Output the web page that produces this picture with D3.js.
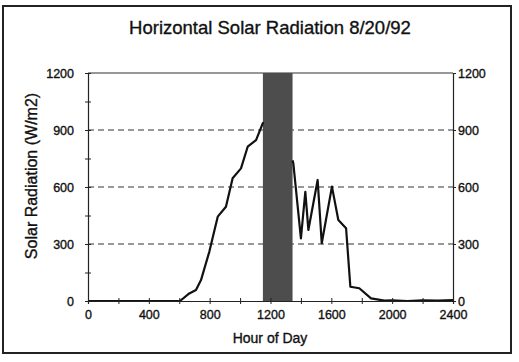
<!DOCTYPE html>
<html>
<head>
<meta charset="utf-8">
<title>Horizontal Solar Radiation</title>
<script src="https://d3js.org/d3.v7.min.js"></script>
<style>
  body { margin: 0; background: #fff; }
  text { font-family: Arial, "Liberation Sans", sans-serif; fill: #111; stroke: #111; stroke-width: 0.35px; }
</style>
</head>
<body>
<script>
// data (hour of day, W/m2)
var hours  = [0, 500, 605, 666, 710, 743, 798, 853, 907, 951, 1006, 1050, 1105, 1149, 1155];
var values = [0, 0,   0,   40,  58,  110, 260, 444, 496, 646, 698,  812,  847,  935,  940];
var hours2  = [1345, 1350, 1400, 1429, 1449, 1510, 1537, 1604, 1646, 1697, 1725, 1784, 1861, 1949, 2000, 2100, 2200, 2300, 2400];
var values2 = [740,  725,  330,  575,  374,  637,  304,  602,  426,  383,  75,   67,   14,   2,    3,    0,    4,    2,    5];
var band = [1150, 1345];
var yTicks = [0, 300, 600, 900, 1200];
var xTicks = [0, 400, 800, 1200, 1600, 2000, 2400];

var W = 519, H = 362;
var svg = d3.select("body").append("svg").attr("width", W).attr("height", H);

svg.append("rect").attr("x", 3).attr("y", 6).attr("width", 508).attr("height", 347)
  .attr("fill", "none").attr("stroke", "#222").attr("stroke-width", 2);

var x = d3.scaleLinear().domain([0, 2400]).range([88, 453]);
var y = d3.scaleLinear().domain([0, 1200]).range([301, 73]);

// grid
svg.selectAll(".grid").data([300, 600, 900]).enter().append("line")
  .attr("x1", x(0)).attr("x2", x(2400))
  .attr("y1", function(d){ return y(d); }).attr("y2", function(d){ return y(d); })
  .attr("stroke", "#333").attr("stroke-width", 1).attr("stroke-dasharray", "6,4");

// top border of plot
svg.append("line").attr("x1", x(0)).attr("x2", x(2400)).attr("y1", y(1200)).attr("y2", y(1200))
  .attr("stroke", "#333").attr("stroke-width", 1.2);

// shaded band
svg.append("rect").attr("x", x(band[0])).attr("y", y(1200))
  .attr("width", x(band[1]) - x(band[0])).attr("height", y(0) - y(1200))
  .attr("fill", "#4d4d4d");

// line
var line = d3.line().x(function(d){ return x(d[0]); }).y(function(d){ return y(d[1]); });
svg.append("path").datum(d3.zip(hours, values)).attr("d", line)
  .attr("fill", "none").attr("stroke", "#111").attr("stroke-width", 2.2).attr("stroke-linejoin", "round");
svg.append("path").datum(d3.zip(hours2, values2)).attr("d", line)
  .attr("fill", "none").attr("stroke", "#111").attr("stroke-width", 2.2).attr("stroke-linejoin", "round");

// axes
var xAxis = d3.axisBottom(x).tickValues(d3.range(0, 2401, 200)).tickSize(3)
  .tickFormat(function(d){ return d % 400 === 0 ? d : ""; });
var gx = svg.append("g").attr("transform", "translate(0," + y(0) + ")").call(xAxis);
gx.selectAll(".tick line").attr("y1", -3).attr("y2", 3);

var yAxisL = d3.axisLeft(y).tickValues(d3.range(0, 1201, 150)).tickSize(3)
  .tickFormat(function(d){ return d % 300 === 0 ? d : ""; });
var gyl = svg.append("g").attr("transform", "translate(" + x(0) + ",0)").call(yAxisL);
gyl.selectAll(".tick line").attr("x1", -3).attr("x2", 3);
gyl.selectAll(".tick text").attr("x", -14);

var yAxisR = d3.axisRight(y).tickValues(yTicks).tickSize(3).tickFormat(d3.format("d"));
var gyr = svg.append("g").attr("transform", "translate(" + x(2400) + ",0)").call(yAxisR);
gyr.selectAll(".tick text").attr("x", 5);

svg.selectAll(".domain").attr("stroke", "#222").attr("stroke-width", 1.2);
svg.selectAll(".tick line").attr("stroke", "#222");
svg.selectAll(".tick text").style("font-family", "Arial, 'Liberation Sans', sans-serif")
  .style("font-size", "12.5px").style("fill", "#111");
gx.selectAll(".tick text").attr("y", 9);

// titles
svg.append("text").attr("x", 270).attr("y", 34).attr("text-anchor", "middle")
  .style("font-size", "18.5px").text("Horizontal Solar Radiation 8/20/92");
svg.append("text").attr("x", 270).attr("y", 343).attr("text-anchor", "middle")
  .style("font-size", "14px").text("Hour of Day");
svg.append("text").attr("transform", "translate(37,176) rotate(-90)").attr("text-anchor", "middle")
  .style("font-size", "16px").text("Solar Radiation (W/m2)");
</script>
</body>
</html>
